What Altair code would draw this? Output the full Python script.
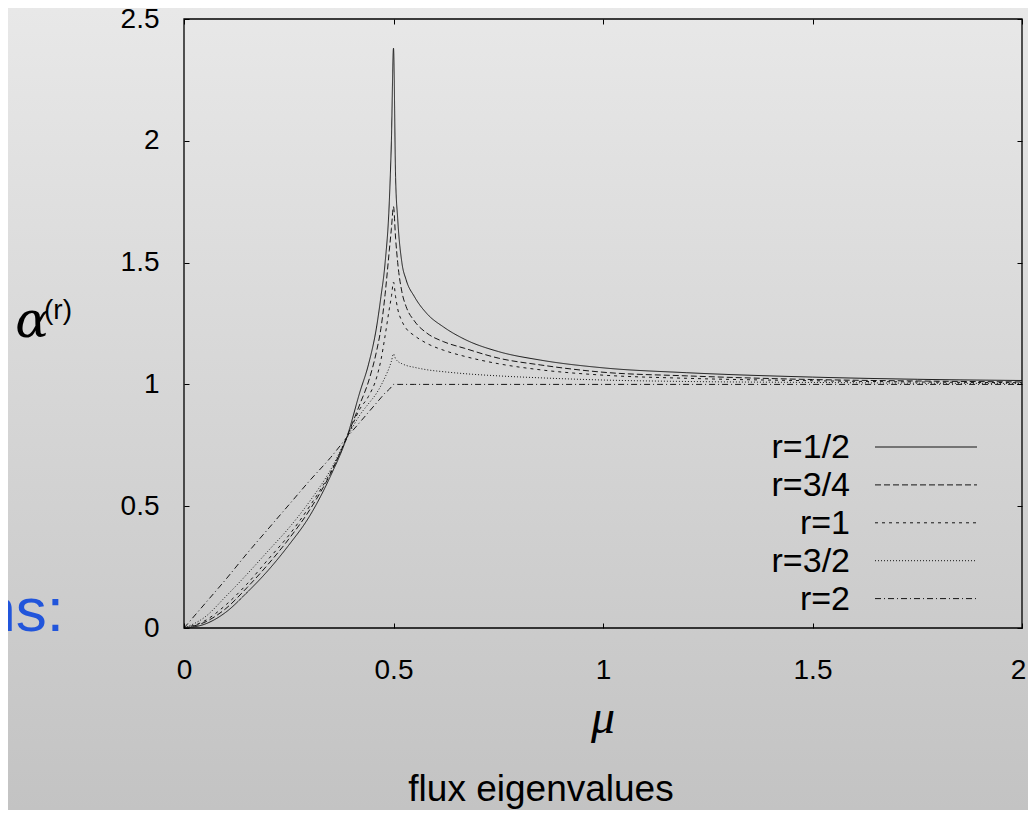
import altair as alt
import pandas as pd

# ---- data ----
mu = [0, 0.05, 0.1, 0.15, 0.2, 0.25, 0.3, 0.35, 0.39, 0.42, 0.44, 0.46, 0.47,
      0.48, 0.49, 0.495, 0.5, 0.505, 0.51, 0.52, 0.53, 0.55, 0.58, 0.62, 0.67,
      0.75, 0.85, 1.0, 1.2, 1.5, 1.75, 2.0]

r_half = [0, 0.016, 0.065, 0.145, 0.235, 0.34, 0.46, 0.625, 0.79, 0.97, 1.08,
          1.24, 1.36, 1.5, 1.75, 2.0, 2.38, 1.85, 1.68, 1.5, 1.43, 1.36, 1.29,
          1.235, 1.185, 1.135, 1.1, 1.068, 1.048, 1.03, 1.021, 1.016]
r_3q = [0, 0.024, 0.08, 0.165, 0.26, 0.365, 0.485, 0.635, 0.79, 0.92, 1.01,
        1.14, 1.23, 1.37, 1.55, 1.64, 1.73, 1.6, 1.5, 1.38, 1.32, 1.26, 1.21,
        1.175, 1.148, 1.108, 1.08, 1.05, 1.035, 1.02, 1.014, 1.01]
r_one = [0, 0.03, 0.095, 0.18, 0.28, 0.38, 0.5, 0.64, 0.785, 0.9, 0.95, 1.03,
         1.1, 1.2, 1.31, 1.36, 1.42, 1.36, 1.31, 1.26, 1.23, 1.2, 1.168, 1.14,
         1.115, 1.085, 1.06, 1.038, 1.025, 1.015, 1.01, 1.007]
r_3h = [0, 0.045, 0.13, 0.22, 0.315, 0.41, 0.52, 0.65, 0.785, 0.875, 0.92,
        0.965, 0.995, 1.03, 1.07, 1.095, 1.125, 1.105, 1.095, 1.085, 1.078,
        1.07, 1.06, 1.052, 1.044, 1.035, 1.027, 1.018, 1.012, 1.008, 1.005, 1.004]
r_two = [0, 0.1, 0.2, 0.305, 0.405, 0.505, 0.605, 0.7, 0.785, 0.845, 0.885,
         0.925, 0.945, 0.965, 0.98, 0.99, 1.0, 1.0, 1.0, 1.0, 1.0, 1.0, 1.0,
         1.0, 1.0, 1.0, 1.0, 1.0, 1.0, 1.0, 1.0, 1.0]

series_names = ["r=1/2", "r=3/4", "r=1", "r=3/2", "r=2"]
series_vals = [r_half, r_3q, r_one, r_3h, r_two]
dash_styles = [[1, 0], [6, 3], [3, 4], [1, 2], [6, 3, 1, 3]]

x_ticks = [0, 0.5, 1, 1.5, 2]
y_ticks = [0, 0.5, 1, 1.5, 2, 2.5]

rows = []
for name, vals in zip(series_names, series_vals):
    for m, v in zip(mu, vals):
        rows.append({"mu": m, "alpha": v, "r": name})
df = pd.DataFrame(rows)

W, H = 838, 609
PAD = {"left": 176, "top": 11, "right": 6, "bottom": 182}
FONT = "Liberation Sans"
LINE_COLOR = "#151515"
xscale = alt.Scale(domain=[0, 2], nice=False, zero=False)
yscale = alt.Scale(domain=[0, 2.5], nice=False)

one = pd.DataFrame({"k": [0]})

bg = alt.Chart(one).mark_rect(
    color=alt.Gradient(
        gradient="linear",
        stops=[alt.GradientStop(color="#e8e8e8", offset=0),
               alt.GradientStop(color="#c3c3c3", offset=1)],
        x1=0, x2=0, y1=0, y2=1),
).encode(x=alt.value(-PAD["left"]), x2=alt.value(W + PAD["right"]),
         y=alt.value(-PAD["top"]), y2=alt.value(H + PAD["bottom"]))

frame = alt.Chart(one).mark_rect(fill="transparent", stroke="#000", strokeWidth=1.3).encode(
    x=alt.value(0), x2=alt.value(W), y=alt.value(0), y2=alt.value(H))

lines = alt.Chart(df).mark_line(color=LINE_COLOR, strokeWidth=1, interpolate="monotone").encode(
    x=alt.X("mu:Q", scale=xscale, title=None,
            axis=alt.Axis(orient="bottom", values=x_ticks, format="~g", ticks=False, tickSize=0,
                          domain=False, grid=False, labelFontSize=28, labelFont=FONT,
                          labelColor="#000", labelPadding=28, labelFlush=False,
                          labelOffset=alt.ExprRef("datum.value == 2 ? -4 : 0"), zindex=1)),
    y=alt.Y("alpha:Q", scale=yscale, title=None,
            axis=alt.Axis(orient="left", values=y_ticks, format="~g", ticks=False, tickSize=0,
                          domain=False, grid=False, labelFontSize=28, labelFont=FONT,
                          labelColor="#000", labelPadding=25, labelFlush=False, zindex=1)),
    strokeDash=alt.StrokeDash("r:N", sort=series_names,
                              scale=alt.Scale(domain=series_names, range=dash_styles),
                              legend=None),
)


def tick_layer(xorient=None, yorient=None):
    xa = None
    ya = None
    if xorient:
        xa = alt.Axis(orient=xorient, values=x_ticks, offset=-5, tickSize=5, ticks=True,
                      tickColor="#000", tickWidth=1, labels=False, domain=False,
                      grid=False, zindex=1)
    if yorient:
        ya = alt.Axis(orient=yorient, values=y_ticks, offset=-5, tickSize=5, ticks=True,
                      tickColor="#000", tickWidth=1, labels=False, domain=False,
                      grid=False, zindex=1)
    return alt.Chart(df).mark_point(opacity=0, size=0).encode(
        x=alt.X("mu:Q", scale=xscale, title=None, axis=xa),
        y=alt.Y("alpha:Q", scale=yscale, title=None, axis=ya),
    )


def label(text, x, y, size, font=FONT, style="normal", align="center", color="#000",
          baseline="alphabetic"):
    return alt.Chart(one).mark_text(text=text, font=font, fontSize=size, fontStyle=style,
                                    align=align, baseline=baseline, color=color).encode(
        x=alt.value(x), y=alt.value(y))


# legend (inside the plot, bottom right): label right-aligned, then a line sample
legend_layers = []
LEG_TOP, LEG_STEP = 428, 37.9
for i, (name, dash) in enumerate(zip(series_names, dash_styles)):
    ry = LEG_TOP + LEG_STEP * i
    legend_layers.append(label(name, 666, ry + 1, 34, align="right", baseline="middle"))
    legend_layers.append(
        alt.Chart(one).mark_rule(color=LINE_COLOR, strokeWidth=1, strokeDash=dash).encode(
            x=alt.value(691), x2=alt.value(793), y=alt.value(ry)))

texts = [
    label("α", -152, 318, 50, font="DejaVu Serif", style="italic"),
    label("(r)", -140, 300, 28, align="left"),
    label("μ", 419, 714, 48, font="Liberation Serif", style="italic"),
    label("flux eigenvalues", 357, 782, 37),
    label("ns:", -120, 612, 62, align="right", color="#2155db"),
]

chart = alt.layer(
    bg, frame, lines,
    tick_layer(xorient="bottom"), tick_layer(xorient="top"),
    tick_layer(yorient="left"), tick_layer(yorient="right"),
    *legend_layers, *texts,
).resolve_axis(x="independent", y="independent").properties(
    width=W, height=H,
    autosize=alt.AutoSizeParams(type="none"),
    padding=PAD,
).configure_view(stroke=None).configure(background="#d6d6d6")

chart.save("out.html", embed_options={"renderer": "svg", "actions": False})
